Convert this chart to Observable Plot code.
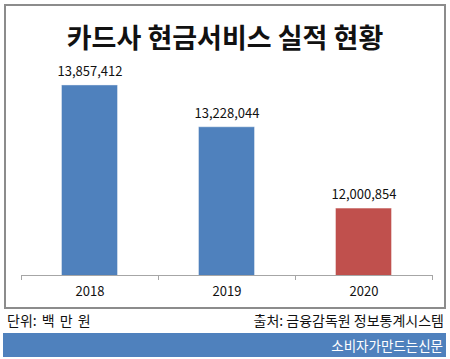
<!DOCTYPE html>
<html>
<head>
<meta charset="utf-8">
<script src="https://cdn.jsdelivr.net/npm/d3@7"></script>
<script src="https://cdn.jsdelivr.net/npm/@observablehq/plot@0.6"></script>
<style>
  html, body { margin: 0; padding: 0; background: #fff; }
  #wrap { position: relative; width: 450px; height: 359px; overflow: hidden; font-family: "Noto Sans CJK KR", "Noto Sans", sans-serif; }
  #frame { position: absolute; left: 4px; top: 4px; width: 438px; height: 301px; border: 2px solid #8c8c8c; }
  #title { position: absolute; left: 0; top: 18px; width: 450px; text-align: center; font-size: 27px; font-weight: 700; color: #111; line-height: 38px; }
  #chart { position: absolute; left: 0; top: 0; }
  #unit { position: absolute; left: 7px; top: 311px; font-size: 14px; color: #111; line-height: 18px; word-spacing: 2px; }
  #source { position: absolute; right: 6px; top: 311px; font-size: 14px; color: #111; line-height: 18px; }
  #band { position: absolute; left: 3px; top: 333px; width: 443px; height: 24px; background: #4f81bd; color: #fff; font-size: 13.5px; line-height: 24px; text-align: right; box-sizing: border-box; padding-right: 3px; }
</style>
</head>
<body>
<div id="wrap">
  <div id="frame"></div>
  <div id="chart"></div>
  <div id="title"></div>
  <div id="unit"></div>
  <div id="source"></div>
  <div id="band"></div>
</div>
<script>
const titleText = "카드사 현금서비스 실적 현황";
const unitText = "단위: 백 만 원";
const sourceText = "출처: 금융감독원 정보통계시스템";
const brandText = "소비자가만드는신문";

const years = ["2018", "2019", "2020"];
const values = [13857412, 13228044, 12000854];
const barColors = ["#4f81bd", "#4f81bd", "#c0504d"];
const yDomain = [11000000, 14000000];

document.getElementById("title").textContent = titleText;
document.getElementById("unit").textContent = unitText;
document.getElementById("source").textContent = sourceText;
document.getElementById("band").textContent = brandText;

const data = years.map((y, i) => ({year: y, value: values[i], color: barColors[i]}));

const W = 450, H = 359, mL = 21, mR = 18, mT = 76, mB = 84;
const step = (W - mL - mR) / years.length;
const fmt = d3.format(",");

const plot = Plot.plot({
  width: W,
  height: H,
  marginLeft: mL,
  marginRight: mR,
  marginTop: mT,
  marginBottom: mB,
  style: {background: "transparent", fontFamily: "'Noto Sans CJK KR', 'Noto Sans', sans-serif"},
  x: {type: "band", domain: years, paddingInner: 0.6, paddingOuter: 0.3, label: null},
  y: {domain: yDomain, axis: null},
  marks: [
    Plot.barY(data, {x: "year", y1: yDomain[0], y2: "value", fill: "color", stroke: "color", strokeOpacity: 0.6}),
    Plot.ruleY([yDomain[0]], {stroke: "#a6a6a6", strokeWidth: 1}),
    Plot.ruleX(years, {x: d => d, y1: yDomain[0], y2: yDomain[0], insetBottom: -5, dx: -step / 2, stroke: "#a6a6a6"}),
    Plot.ruleX(years.slice(-1), {x: d => d, y1: yDomain[0], y2: yDomain[0], insetBottom: -5, dx: step / 2, stroke: "#a6a6a6"}),
    Plot.text(data, {x: "year", y: "value", text: d => fmt(d.value), dy: -14, fontSize: 13, fill: "#111"}),
    Plot.axisX({tickSize: 0, tickPadding: 11, fontSize: 13, color: "#111"})
  ]
});
document.getElementById("chart").appendChild(plot);
</script>
</body>
</html>
